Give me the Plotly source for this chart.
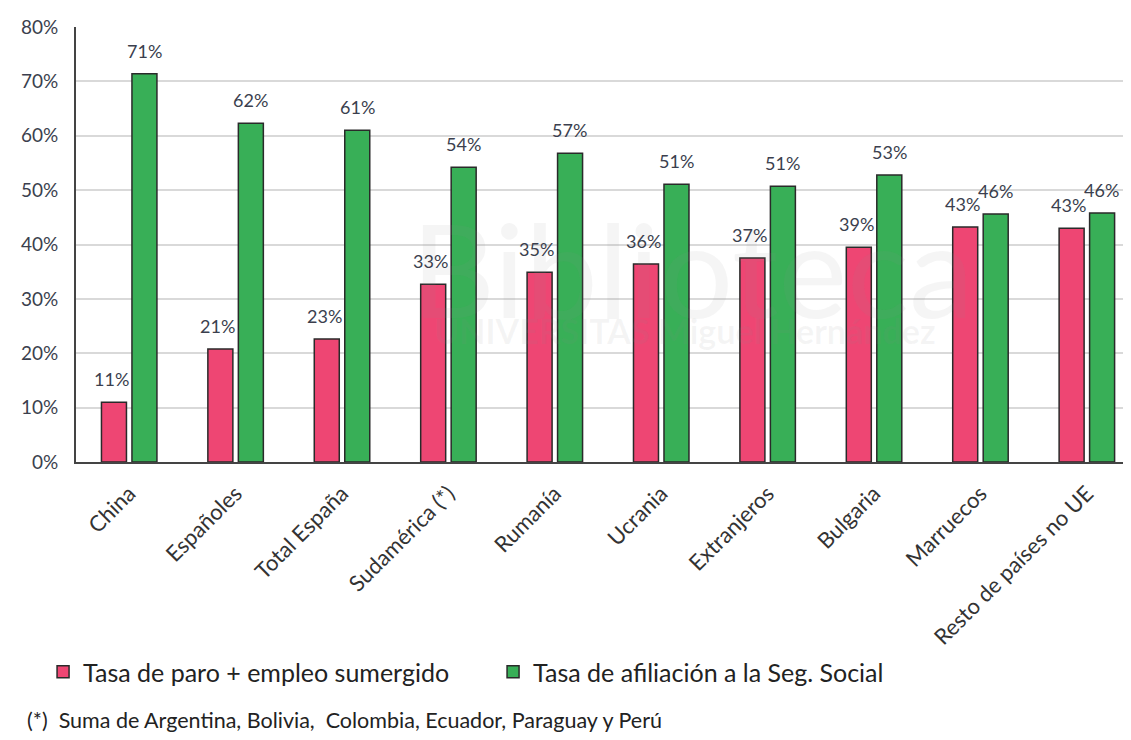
import plotly.graph_objects as go

categories = ["China", "Españoles", "Total España", "Sudamérica (*)", "Rumanía",
              "Ucrania", "Extranjeros", "Bulgaria", "Marruecos", "Resto de países no UE"]
paro = [0.110, 0.208, 0.226, 0.327, 0.349, 0.364, 0.375, 0.395, 0.432, 0.430]
afiliacion = [0.714, 0.623, 0.610, 0.542, 0.568, 0.511, 0.507, 0.528, 0.456, 0.458]
paro_labels = ["11%", "21%", "23%", "33%", "35%", "36%", "37%", "39%", "43%", "43%"]
afil_labels = ["71%", "62%", "61%", "54%", "57%", "51%", "51%", "53%", "46%", "46%"]
y_ticks = [0, 0.1, 0.2, 0.3, 0.4, 0.5, 0.6, 0.7, 0.8]
y_tick_text = ["0%", "10%", "20%", "30%", "40%", "50%", "60%", "70%", "80%"]
footnote = "(*)  Suma de Argentina, Bolivia,  Colombia, Ecuador, Paraguay y Perú"

RED = "#EE4673"
GREEN = "#38AF57"
FONT = "Lato"
TXT = "#3b3f4e"

fig = go.Figure()
fig.add_trace(go.Bar(name="Tasa de paro + empleo sumergido", x=categories, y=paro,
                     marker=dict(color=RED, line=dict(color="#2a2a2a", width=1.5))))
fig.add_trace(go.Bar(name="Tasa de afiliación a la Seg. Social", x=categories, y=afiliacion,
                     marker=dict(color=GREEN, line=dict(color="#2a2a2a", width=1.5))))

annotations = []
# faint watermark
annotations.append(dict(text="Biblioteca", xref="paper", yref="paper", x=0.58, y=0.446,
                        showarrow=False,
                        font=dict(family=FONT, size=130, color="rgba(140,140,140,0.09)")))
annotations.append(dict(text="<b>UNIVERSITAS Miguel Hernández</b>", xref="paper", yref="paper",
                        x=0.573, y=0.25, showarrow=False,
                        font=dict(family=FONT, size=34, color="rgba(140,140,140,0.09)")))

for i, c in enumerate(categories):
    annotations.append(dict(x=c, y=paro[i], xref="x", yref="y", text=paro_labels[i],
                            showarrow=False, xshift=-18, yshift=23,
                            font=dict(family=FONT, size=18, color=TXT)))
    annotations.append(dict(x=c, y=afiliacion[i], xref="x", yref="y", text=afil_labels[i],
                            showarrow=False, xshift=15, yshift=23,
                            font=dict(family=FONT, size=18, color=TXT)))

annotations.append(dict(text=footnote, xref="paper", yref="paper", x=-0.048, y=-0.593,
                        xanchor="left", yanchor="middle", showarrow=False,
                        font=dict(family=FONT, size=21.5, color="#222")))

fig.update_layout(
    width=1131, height=740,
    margin=dict(l=68, r=0, t=19, b=286),
    paper_bgcolor="white", plot_bgcolor="white",
    barmode="group", bargap=0.427, bargroupgap=0.18,
    font=dict(family=FONT, color=TXT),
    showlegend=True,
    legend=dict(orientation="h", xref="container", yref="container", x=0.031, y=0.1027,
                xanchor="left", yanchor="middle",
                font=dict(family=FONT, size=25, color="#222"),
                entrywidth=405, entrywidthmode="pixels",
                traceorder="normal"),
    annotations=annotations,
)
fig.update_xaxes(range=[-0.5, 9.49], showline=True, linecolor="#444", linewidth=2,
                 tickangle=-45, tickfont=dict(family=FONT, size=22, color="#333"),
                 ticks="", showgrid=False, ticklabelstandoff=8)
fig.update_yaxes(range=[0, 0.8], tickvals=y_ticks, ticktext=y_tick_text,
                 showline=True, linecolor="#444", linewidth=2,
                 gridcolor="#d9d9d9", gridwidth=1.5, zeroline=False,
                 tickfont=dict(family=FONT, size=19, color=TXT), ticks="", ticklabelstandoff=12)

fig.write_html("out.html")
